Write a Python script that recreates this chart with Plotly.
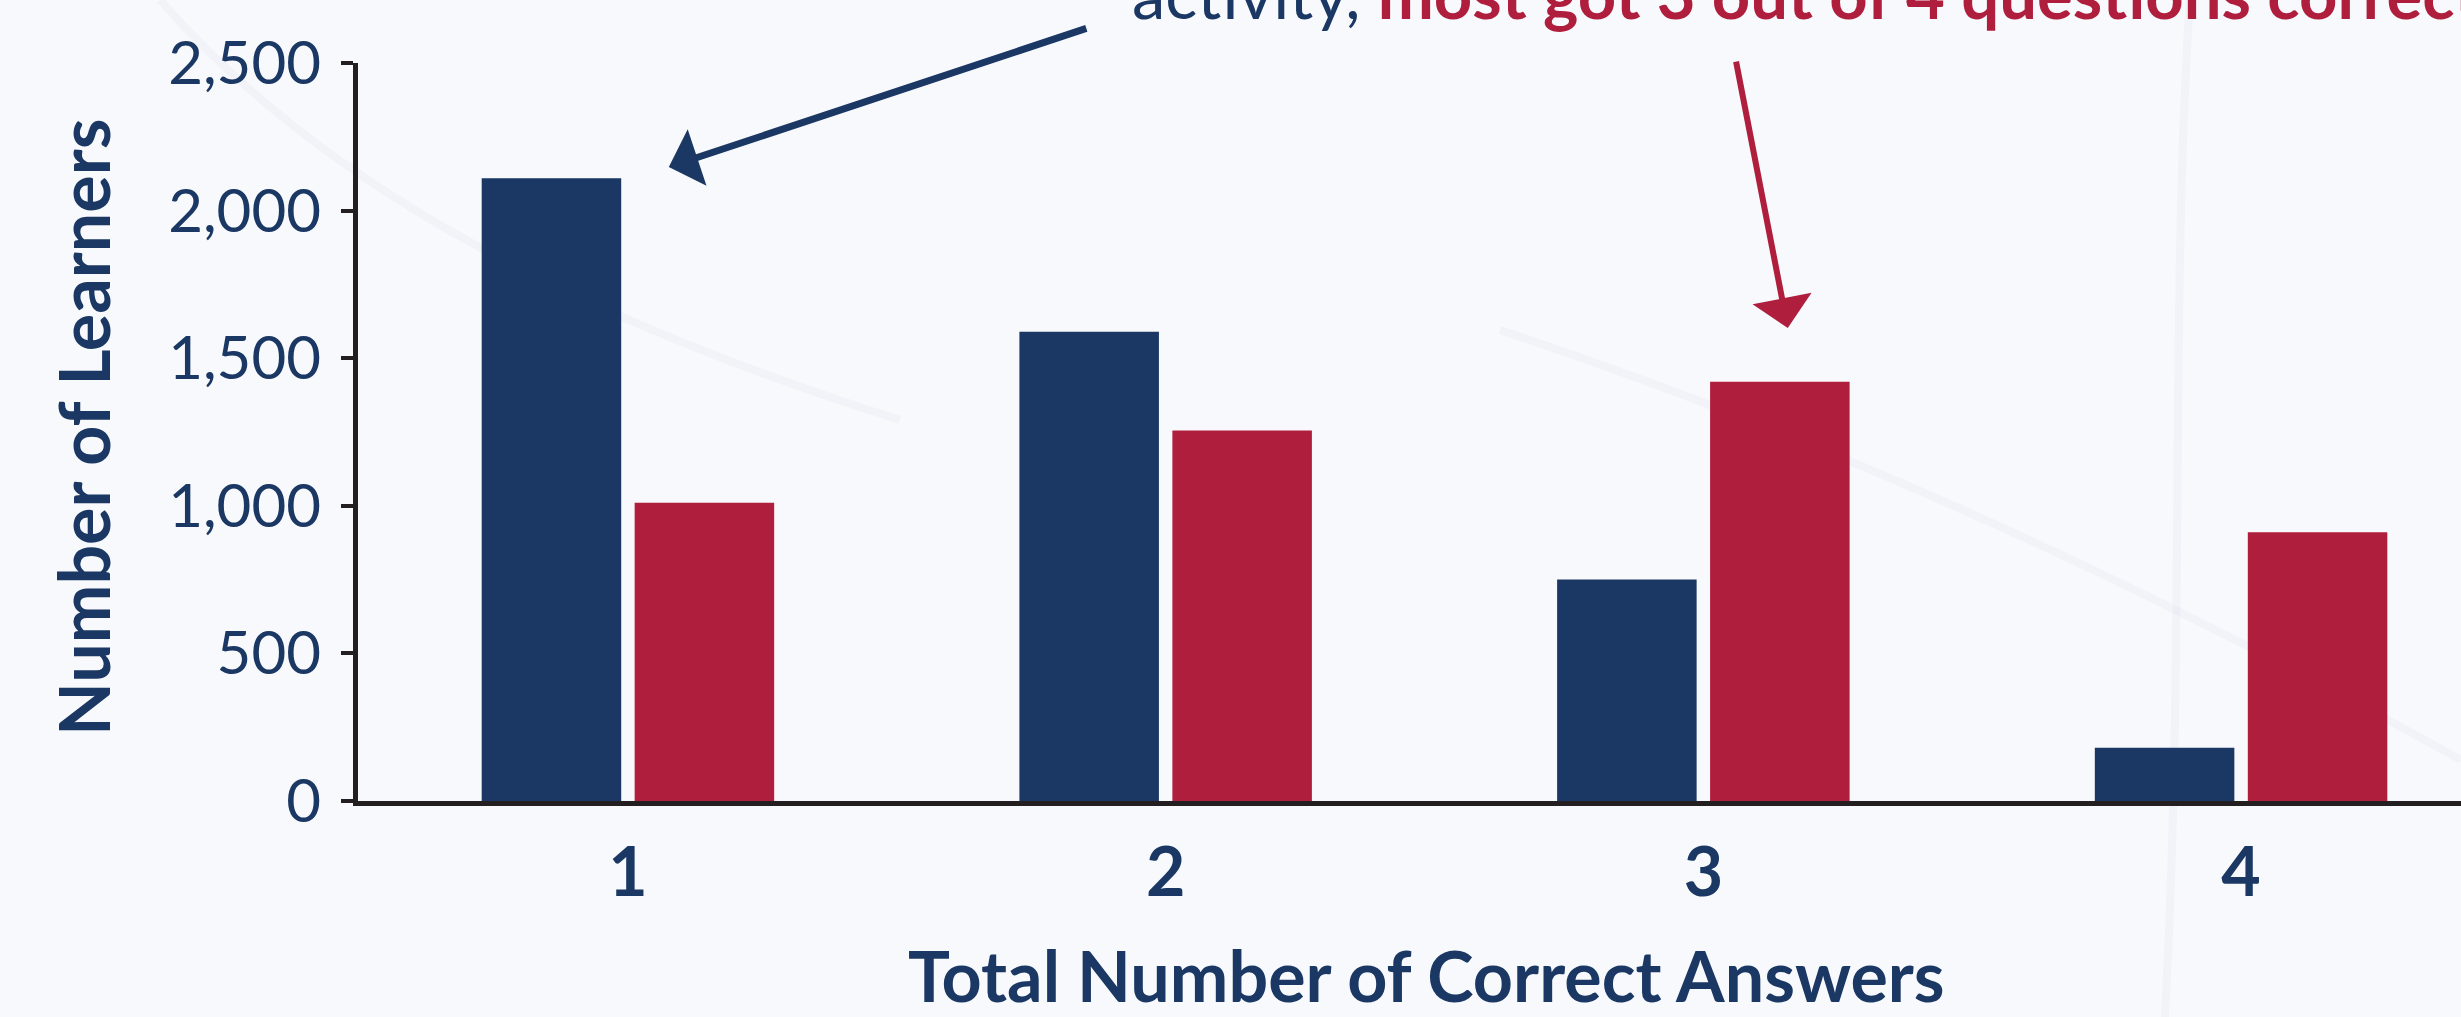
import plotly.graph_objects as go

# Learners by total number of correct answers, before and after the activity
answers = [1, 2, 3, 4]
answer_labels = ["1", "2", "3", "4"]
before_counts = [2110, 1590, 750, 180]
after_counts = [1010, 1255, 1420, 910]
y_ticks = [0, 500, 1000, 1500, 2000, 2500]

NAVY = "#1a3863"
RED = "#b01e3d"
AXIS = "#231f20"
FONT = "Lato"

W, H = 2461, 1017
M_L, M_R, M_T, M_B = 358, 0, 63, 216
PW, PH = W - M_L - M_R, H - M_T - M_B


def px_to_paper(px, py):
    """Convert page pixel coordinates to paper fractions."""
    return (px - M_L) / PW, (H - M_B - py) / PH


fig = go.Figure()
fig.add_trace(go.Bar(x=answers, y=before_counts, name="Before",
                     marker=dict(color=NAVY, line=dict(width=0))))
fig.add_trace(go.Bar(x=answers, y=after_counts, name="After",
                     marker=dict(color=RED, line=dict(width=0))))

# very faint decorative strokes in the page background (page pixels)
bg_strokes = [
    [(2190, 0), (2170, 300), (2185, 650), (2165, 1017)],
    [(1500, 330), (1800, 430), (2100, 560), (2461, 760)],
    [(160, 0), (300, 160), (520, 300), (900, 420)],
]
shapes = []
for pts in bg_strokes:
    p = [px_to_paper(*q) for q in pts]
    path = "M %.4f %.4f C %.4f %.4f, %.4f %.4f, %.4f %.4f" % (
        p[0][0], p[0][1], p[1][0], p[1][1], p[2][0], p[2][1], p[3][0], p[3][1])
    shapes.append(dict(type="path", path=path, xref="paper", yref="paper",
                       layer="below",
                       line=dict(color="rgba(226,230,240,0.3)", width=8)))

annotations = [
    # axis titles
    dict(text="Total Number of Correct Answers", xref="paper", yref="paper",
         x=(1426 - M_L) / PW, y=0, yshift=-(975 - (H - M_B)),
         xanchor="center", yanchor="middle", showarrow=False,
         font=dict(family=FONT, size=70, color=NAVY, weight=700)),
    dict(text="Number of Learners", xref="paper", yref="paper",
         x=0, xshift=-(M_L - 83), y=(H - M_B - 428) / PH,
         xanchor="center", yanchor="middle", textangle=-90, showarrow=False,
         font=dict(family=FONT, size=70, color=NAVY, weight=700)),
    # callout text line
    dict(text="activity, <b><span style='color:%s'>most got 3 out of 4 questions correct.</span></b>" % RED,
         xref="paper", yref="paper", x=(1130 - M_L) / PW, y=1,
         xanchor="left", yanchor="bottom", yshift=28, showarrow=False,
         font=dict(family=FONT, size=67, color=NAVY)),
    # callout arrows
    dict(text="", x=1.076, y=2148, xref="x", yref="y", ax=419, ay=-139,
         showarrow=True, arrowhead=1, arrowsize=1.42, arrowwidth=7,
         arrowcolor=NAVY, standoff=0, startstandoff=0),
    dict(text="", x=3.157, y=1602, xref="x", yref="y", ax=-52, ay=-268,
         showarrow=True, arrowhead=1, arrowsize=1.67, arrowwidth=6,
         arrowcolor=RED, standoff=0, startstandoff=0),
]

fig.update_layout(
    width=W, height=H,
    margin=dict(l=M_L, r=M_R, t=M_T, b=M_B, pad=0),
    paper_bgcolor="#f8f9fc", plot_bgcolor="rgba(0,0,0,0)",
    barmode="group", bargap=0.431, bargroupgap=0.088,
    showlegend=False,
    shapes=shapes,
    annotations=annotations,
    xaxis=dict(range=[0.498, 4.409], tickvals=answers, ticktext=answer_labels,
               showgrid=False, zeroline=False, showline=True, linecolor=AXIS,
               linewidth=5, ticks="", ticklabelstandoff=8,
               tickfont=dict(family=FONT, size=68, color=NAVY, weight=700)),
    yaxis=dict(range=[0, 2500], tickvals=y_ticks, tickformat=",",
               showgrid=False, zeroline=False, showline=True, linecolor=AXIS,
               linewidth=5, ticks="outside", ticklen=12, tickwidth=4,
               tickcolor=AXIS, ticklabelstandoff=8,
               tickfont=dict(family=FONT, size=60, color=NAVY)),
)

fig.write_html("out.html")
